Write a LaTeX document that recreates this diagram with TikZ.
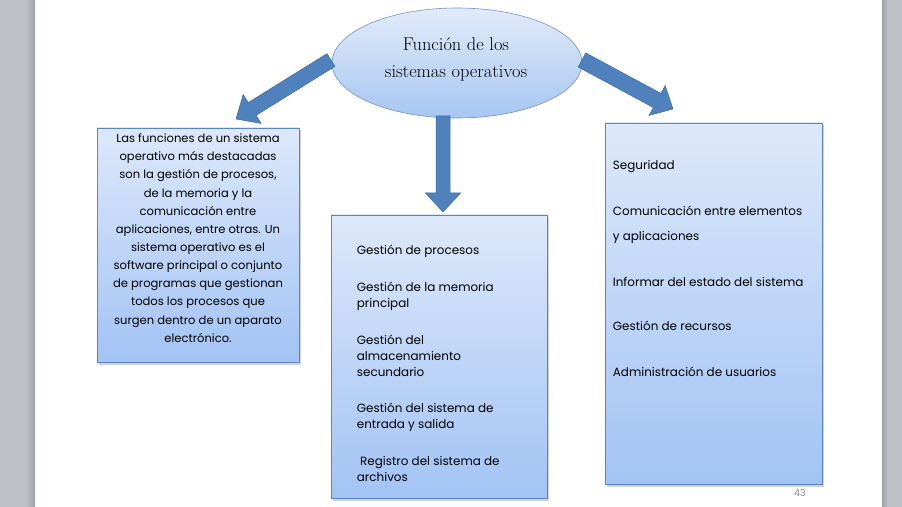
\documentclass[tikz,border=0pt]{standalone}
\usepackage{fontspec}
\setsansfont{Poppins}
\usetikzlibrary{calc,shadows,shapes.geometric}
\definecolor{bggray}{HTML}{BEC2C8}
\definecolor{bgdark}{HTML}{9EA2A8}
\definecolor{boxtop}{HTML}{DDE8FA}
\definecolor{boxbot}{HTML}{A2C3F4}
\definecolor{boxline}{HTML}{5A86C0}
\definecolor{elltop}{HTML}{E2EBF9}
\definecolor{ellbot}{HTML}{A6C6F2}
\definecolor{ellline}{HTML}{7393C4}
\definecolor{arrfill}{HTML}{4F81BD}
\definecolor{arrline}{HTML}{3D6BA3}
\definecolor{numgray}{HTML}{8C8C8C}
\tikzset{
  infobox/.style={draw=boxline, line width=0.6bp, top color=boxtop, bottom color=boxbot,
    inner sep=0pt, drop shadow={opacity=0.35, shadow xshift=1.5bp, shadow yshift=-2.5bp}},
  bodytext/.style={font=\sffamily\fontsize{11.6}{18.2}\selectfont, text=black, inner sep=0pt},
  blockarr/.style={fill=arrfill, draw=arrline, line width=0.5bp, line join=miter},
}
% block arrow from #1 to #2: shaft half width #3, head half width #4, head length #5
\newcommand{\blkarrow}[5]{%
  \filldraw[blockarr]
    ($(#1)!#3!90:(#2)$) --
    ($($(#2)!#5!(#1)$)!#3!90:(#2)$) --
    ($($(#2)!#5!(#1)$)!#4!90:(#2)$) --
    (#2) --
    ($($(#2)!#5!(#1)$)!#4!-90:(#2)$) --
    ($($(#2)!#5!(#1)$)!#3!-90:(#2)$) --
    ($(#1)!#3!-90:(#2)$) -- cycle;}
\begin{document}
\begin{tikzpicture}[x=1bp,y=-1bp]
\useasboundingbox (0,0) rectangle (902,507);
% slide background
\fill[white] (0,0) rectangle (902,507);
\fill[bggray] (0,0) rectangle (35,507);
\shade[left color=bggray, right color=bgdark] (26,0) rectangle (35,507);
\fill[bggray] (882,0) rectangle (902,507);
\shade[left color=bgdark, right color=bggray] (882,0) rectangle (888,507);

% boxes
\node[infobox, minimum width=202bp, minimum height=234bp] (lbox) at (198,245) {};
\node[infobox, minimum width=216bp, minimum height=283bp] (mbox) at (439,356.5) {};
\node[infobox, minimum width=217bp, minimum height=361bp] (rbox) at (713.5,303.5) {};

% central ellipse
\node[ellipse, draw=ellline, line width=0.6bp, top color=elltop, bottom color=ellbot,
      minimum width=250bp, minimum height=110bp, inner sep=0pt] (ell) at (457,63) {};
\node[align=center, font=\fontsize{18.5}{27}\selectfont, inner sep=0pt] (title) at (456,59.5)
  {Función de los\\sistemas operativos};

% arrow end points
\coordinate (ltail) at (331,60);
\coordinate (ltip) at (236,119);
\coordinate (mtail) at (443,116);
\coordinate (mtip) at (443,212);
\coordinate (rtail) at (582,60);
\coordinate (rtip) at (673,109);
\blkarrow{ltail}{ltip}{7.5bp}{17bp}{19bp}
\blkarrow{mtail}{mtip}{7bp}{17.5bp}{19bp}
\blkarrow{rtail}{rtip}{8bp}{17bp}{18bp}

% texts
\node[bodytext, align=center, anchor=north] (ltxt) at ($(lbox.north)+(0,6)$)
  {Las funciones de un sistema\\operativo más destacadas\\son la gestión de procesos,\\de la memoria y la\\comunicación entre\\aplicaciones, entre otras. Un\\sistema operativo es el\\software principal o conjunto\\de programas que gestionan\\todos los procesos que\\surgen dentro de un aparato\\electrónico.};

\node[bodytext, font=\sffamily\fontsize{12}{16}\selectfont, align=left, anchor=north west] (mtxt)
  at ($(mbox.north west)+(26,30)$)
  {Gestión de procesos\\[21bp]Gestión de la memoria\\principal\\[21bp]Gestión del\\almacenamiento\\secundario\\[21bp]Gestión del sistema de\\entrada y salida\\[21bp]\ Registro del sistema de\\archivos};

\node[bodytext, font=\sffamily\fontsize{12}{25}\selectfont, align=left, anchor=north west] (rtxt)
  at ($(rbox.north west)+(8,37.5)$)
  {Seguridad\\[21bp]Comunicación entre elementos\\y aplicaciones\\[21bp]Informar del estado del sistema\\[19bp]Gestión de recursos\\[21bp]Administración de usuarios};

\node[font=\sffamily\fontsize{9.5}{11}\selectfont, text=numgray, inner sep=0pt] (pnum) at (800,493) {43};
\end{tikzpicture}
\end{document}
